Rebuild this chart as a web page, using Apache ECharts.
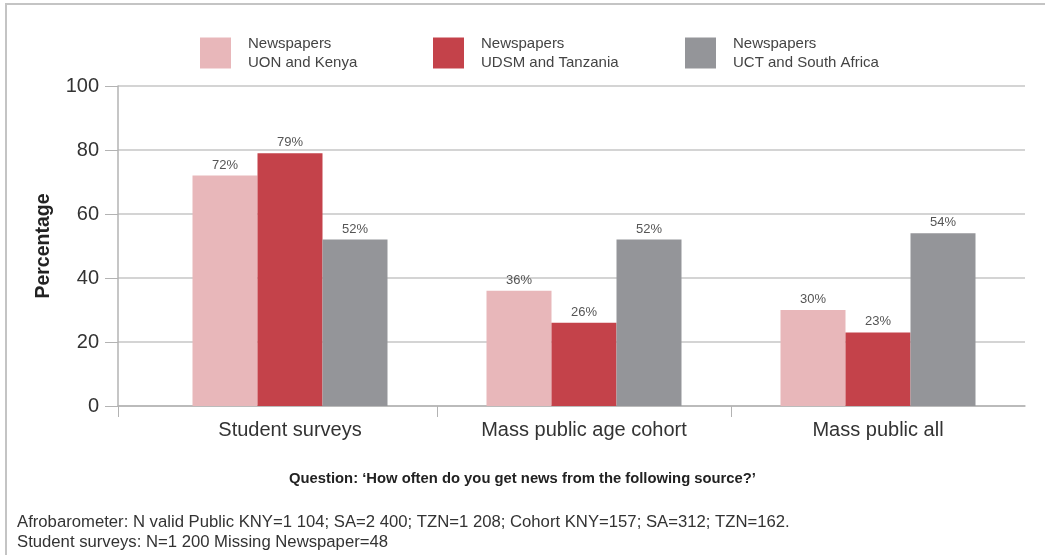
<!DOCTYPE html>
<html>
<head>
<meta charset="utf-8">
<title>Newspapers</title>
<script src="https://cdn.jsdelivr.net/npm/echarts@6/dist/echarts.min.js"></script>
<style>
  html, body { margin: 0; padding: 0; background: #fff; }
  #main { width: 1045px; height: 555px; }
</style>
</head>
<body>
<div id="main"></div>
<script>
// data
var categories = ['Student surveys', 'Mass public age cohort', 'Mass public all'];
var seriesNames = ['Newspapers\nUON and Kenya', 'Newspapers\nUDSM and Tanzania', 'Newspapers\nUCT and South Africa'];
var uonKenya = [72, 36, 30];
var udsmTanzania = [79, 26, 23];
var uctSouthAfrica = [52, 52, 54];
var yTicks = [0, 20, 40, 60, 80, 100];

var colors = ['#E8B7BA', '#C4424A', '#949599'];
var font = 'Liberation Sans, Arial, sans-serif';

// plot area: y axis at 118, bars start a little to the right of it
var plotLeft = 118, barsLeft = 143, plotRight = 20, chartW = 1045;
var catW = (chartW - plotRight - barsLeft) / categories.length;
var leadIn = (barsLeft - plotLeft) / catW; // in category units

var myChart = echarts.init(document.getElementById('main'));

function bar(name, data, color) {
    return {
        name: name,
        type: 'bar',
        xAxisIndex: 1,
        yAxisIndex: 1,
        barWidth: 65,
        barGap: '0%',
        itemStyle: { color: color },
        label: {
            show: true,
            position: 'top',
            distance: 4,
            formatter: '{c}%',
            fontFamily: font,
            fontSize: 13,
            color: '#555'
        },
        data: data
    };
}

function legendAt(idx, left) {
    return {
        left: left,
        top: 29,
        data: [seriesNames[idx]],
        icon: 'rect',
        itemWidth: 31,
        itemHeight: 31,
        selectedMode: false,
        textStyle: {
            fontFamily: font,
            fontSize: 15,
            lineHeight: 19,
            color: '#444',
            padding: [0, 0, 0, 12]
        }
    };
}

var option = {
    animation: false,
    backgroundColor: '#fff',
    textStyle: { fontFamily: font },
    title: [
        {
            text: 'Question: \u2018How often do you get news from the following source?\u2019',
            left: 'center',
            top: 466,
            textStyle: { fontFamily: font, fontSize: 14.8, fontWeight: 'bold', color: '#222' }
        },
        {
            text: 'Afrobarometer: N valid Public KNY=1 104; SA=2 400; TZN=1 208; Cohort KNY=157; SA=312; TZN=162.\nStudent surveys: N=1 200 Missing Newspaper=48',
            left: 12,
            top: 507,
            textStyle: { fontFamily: font, fontSize: 16.7, fontWeight: 'normal', color: '#333', lineHeight: 20 }
        }
    ],
    legend: [legendAt(0, 195), legendAt(1, 428), legendAt(2, 680)],
    graphic: [
        {
            // frame on the top and left
            type: 'polyline',
            silent: true,
            shape: { points: [[6, 555], [6, 4], [1045, 4]] },
            style: { stroke: '#c4c4c4', lineWidth: 2, fill: null }
        }
    ],
    grid: [
        { left: plotLeft, right: plotRight, top: 86, bottom: 149 },
        { left: barsLeft, right: plotRight, top: 86, bottom: 149 }
    ],
    xAxis: [
        {
            // axis line + ticks at the y axis and between the categories
            gridIndex: 0,
            type: 'value',
            min: -leadIn,
            max: categories.length,
            axisLine: { show: true, onZero: false, lineStyle: { color: '#b3b3b3', width: 1.5 } },
            axisTick: { show: true, customValues: [-leadIn, 1, 2], length: 11, lineStyle: { color: '#b3b3b3' } },
            axisLabel: { show: false },
            splitLine: { show: false }
        },
        {
            gridIndex: 1,
            type: 'category',
            data: categories,
            axisLine: { show: false },
            axisTick: { show: false },
            axisLabel: { fontFamily: font, fontSize: 20, color: '#333', margin: 14 },
            splitLine: { show: false }
        }
    ],
    yAxis: [
        {
            gridIndex: 0,
            type: 'value',
            min: yTicks[0],
            max: yTicks[yTicks.length - 1],
            interval: 20,
            name: 'Percentage',
            nameLocation: 'middle',
            nameGap: 64,
            nameTextStyle: { fontFamily: font, fontSize: 19.5, fontWeight: 'bold', color: '#222' },
            axisLine: { show: true, onZero: false, lineStyle: { color: '#b3b3b3', width: 1.5 } },
            axisTick: { show: true, length: 13, lineStyle: { color: '#b3b3b3' } },
            axisLabel: { fontFamily: font, fontSize: 20, color: '#333', margin: 19 },
            splitLine: { show: true, lineStyle: { color: '#c6c6c6', width: 1.5 } }
        },
        {
            gridIndex: 1,
            type: 'value',
            min: 0,
            max: 100,
            show: false,
            splitLine: { show: false }
        }
    ],
    series: [
        bar(seriesNames[0], uonKenya, colors[0]),
        bar(seriesNames[1], udsmTanzania, colors[1]),
        bar(seriesNames[2], uctSouthAfrica, colors[2])
    ]
};

myChart.setOption(option);
</script>
</body>
</html>
